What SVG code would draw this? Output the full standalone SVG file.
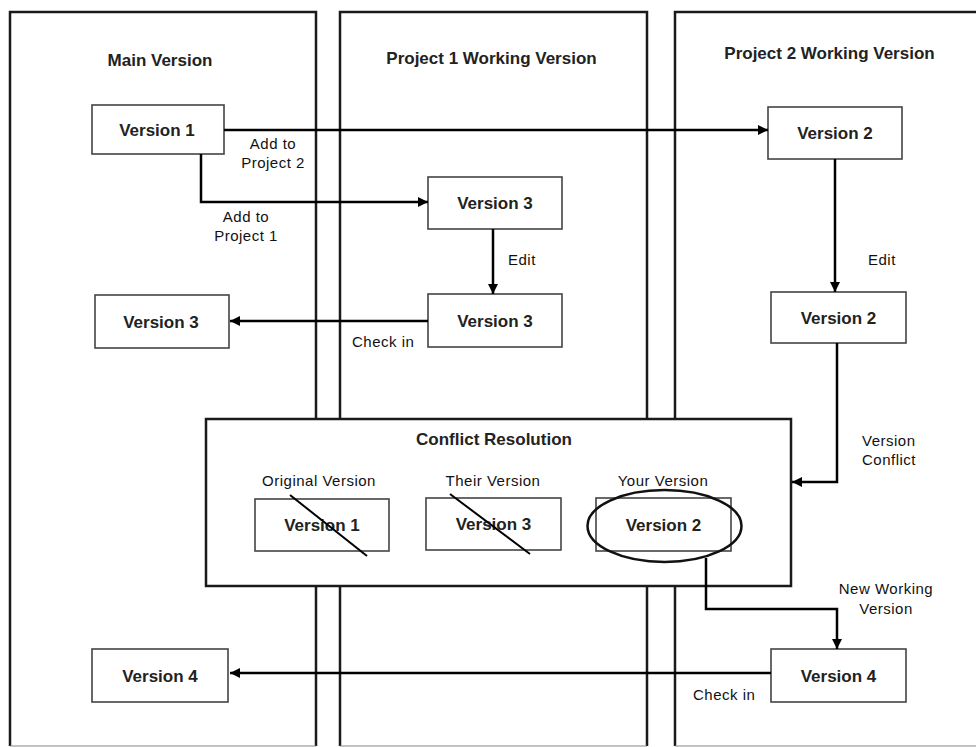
<svg xmlns="http://www.w3.org/2000/svg" width="976" height="747" viewBox="0 0 976 747">
<defs>
<marker id="arr" viewBox="0 0 10 10" refX="10" refY="5" markerWidth="12" markerHeight="10" markerUnits="userSpaceOnUse" orient="auto"><path d="M0,0 L10,5 L0,10 z" fill="#000"/></marker>
<style>
.lane{fill:#fff;stroke:#1a1a1a;stroke-width:2.5}
.lanebot{stroke:#888;stroke-width:1.2}
.t{font-family:"Liberation Sans",Arial,sans-serif;font-weight:bold;font-size:17px;fill:#222;text-anchor:middle}
.box{fill:#fff;stroke:#444;stroke-width:1.6}
.lbl{font-family:"Liberation Sans",Arial,sans-serif;font-size:15px;letter-spacing:0.5px;fill:#111}
.m{text-anchor:middle}
.con{fill:none;stroke:#000;stroke-width:2.5;marker-end:url(#arr)}
.strike{stroke:#000;stroke-width:2}
</style>
</defs>
<rect width="976" height="747" fill="#fff"/>
<g id="lane-main">
<path class="lane" d="M10,746 V12 H316 V746"/>
<line class="lanebot" x1="10" y1="746" x2="316" y2="746"/>
<text class="t" x="160" y="66">Main Version</text>
</g>
<g id="lane-project1">
<path class="lane" d="M340,746 V12 H647 V746"/>
<line class="lanebot" x1="340" y1="746" x2="647" y2="746"/>
<text class="t" x="491.5" y="64">Project 1 Working Version</text>
</g>
<g id="lane-project2">
<path class="lane" d="M675,746 V12 H980"/>
<line class="lanebot" x1="675" y1="746" x2="976" y2="746"/>
<text class="t" x="829.5" y="59">Project 2 Working Version</text>
</g>
<g id="conflict-resolution">
<rect class="lane" x="206" y="419" width="585" height="167"/>
<text class="t" x="494" y="445">Conflict Resolution</text>
</g>
<g id="main-v1">
<rect class="box" x="92" y="105" width="132" height="49"/>
<text class="t" x="157" y="135.5">Version 1</text>
</g>
<g id="p1-v3a">
<rect class="box" x="428" y="177" width="134" height="52"/>
<text class="t" x="495" y="209">Version 3</text>
</g>
<g id="p2-v2a">
<rect class="box" x="768" y="107" width="134" height="52"/>
<text class="t" x="835" y="139">Version 2</text>
</g>
<g id="main-v3">
<rect class="box" x="95" y="295" width="134" height="53"/>
<text class="t" x="161" y="327.5">Version 3</text>
</g>
<g id="p1-v3b">
<rect class="box" x="428" y="294" width="134" height="53"/>
<text class="t" x="495" y="326.5">Version 3</text>
</g>
<g id="p2-v2b">
<rect class="box" x="771" y="292" width="135" height="51"/>
<text class="t" x="838.5" y="323.5">Version 2</text>
</g>
<g id="cr-original">
<text class="lbl m" x="319" y="486">Original Version</text>
<rect class="box" x="255" y="499" width="134" height="52"/>
<text class="t" x="322" y="531">Version 1</text>
<line class="strike" x1="290" y1="495" x2="367" y2="556"/>
</g>
<g id="cr-their">
<text class="lbl m" x="493" y="486">Their Version</text>
<rect class="box" x="426" y="498" width="135" height="52"/>
<text class="t" x="493.5" y="530">Version 3</text>
<line class="strike" x1="450" y1="494" x2="530" y2="554"/>
</g>
<g id="cr-your">
<text class="lbl m" x="663" y="486">Your Version</text>
<rect class="box" x="596" y="498" width="135" height="53"/>
<text class="t" x="663.5" y="530.5">Version 2</text>
<ellipse cx="664.5" cy="526" rx="77" ry="36" fill="none" stroke="#111" stroke-width="2.5"/>
</g>
<g id="main-v4">
<rect class="box" x="92" y="649" width="136" height="53"/>
<text class="t" x="160" y="681.5">Version 4</text>
</g>
<g id="p2-v4">
<rect class="box" x="771" y="649" width="135" height="53"/>
<text class="t" x="838.5" y="681.5">Version 4</text>
</g>
<g id="connectors">
<path class="con" d="M224,130 H768"/>
<path class="con" d="M201,154 V202 H428"/>
<path class="con" d="M493,229 V294"/>
<path class="con" d="M428,321 H230"/>
<path class="con" d="M835,159 V292"/>
<path class="con" d="M837,343 V482 H792"/>
<path class="con" d="M706,558 V609 H837 V649"/>
<path class="con" d="M771,673 H230"/>
<text class="lbl m" x="273" y="149">Add to</text>
<text class="lbl m" x="273" y="168">Project 2</text>
<text class="lbl m" x="246" y="222">Add to</text>
<text class="lbl m" x="246" y="241">Project 1</text>
<text class="lbl" x="508" y="265">Edit</text>
<text class="lbl" x="868" y="265">Edit</text>
<text class="lbl" x="352" y="347">Check in</text>
<text class="lbl" x="862" y="446">Version</text>
<text class="lbl" x="862" y="465">Conflict</text>
<text class="lbl m" x="886" y="594">New Working</text>
<text class="lbl m" x="886" y="614">Version</text>
<text class="lbl" x="693" y="700">Check in</text>
</g>
</svg>
